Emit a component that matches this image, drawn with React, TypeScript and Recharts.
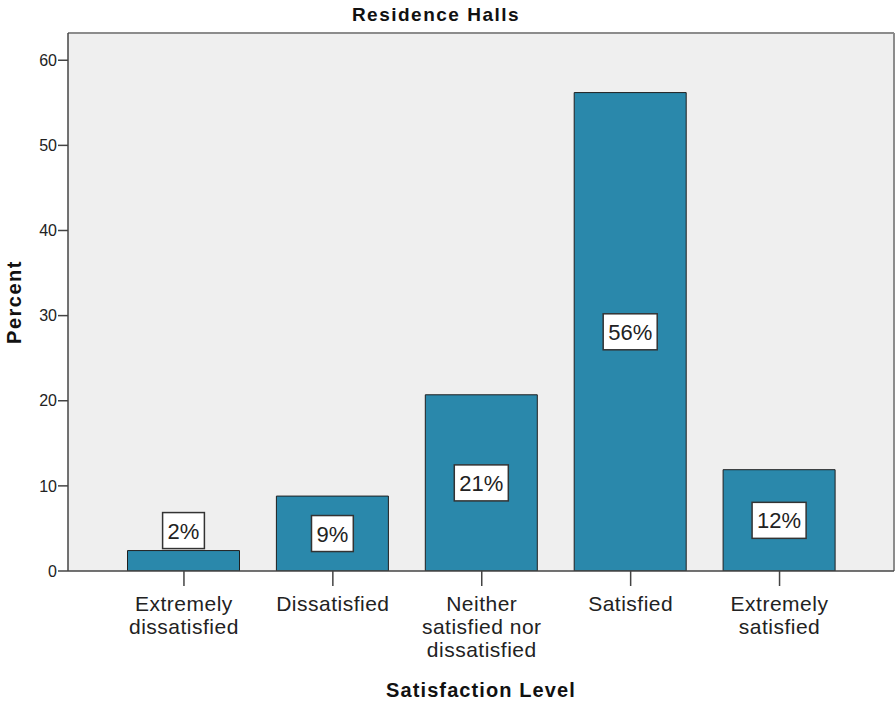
import { Bar, BarChart, CartesianGrid, LabelList, XAxis, YAxis } from "recharts";

const categories = [
  "Extremely\ndissatisfied",
  "Dissatisfied",
  "Neither\nsatisfied nor\ndissatisfied",
  "Satisfied",
  "Extremely\nsatisfied",
];
const percents = [2.4, 8.8, 20.7, 56.2, 11.9];
const percentLabels = ["2%", "9%", "21%", "56%", "12%"];
const yTicks = [0, 10, 20, 30, 40, 50, 60];
const yMax = 63.2;

const FONT = '"Liberation Sans", Arial, sans-serif';
const INK = "#222222";
const AXIS = "#444444";

const chartData = categories.map((name, i) => ({
  name,
  value: percents[i],
  label: percentLabels[i],
}));

// rough Arial advance widths for the label box
function textWidth(text: string, fontSize: number) {
  let w = 0;
  for (const ch of text) w += ch === "%" ? 0.889 : 0.556;
  return w * fontSize;
}

function CategoryTick({ x, y, payload }: any) {
  const lines = String(payload.value).split("\n");
  return (
    <text x={x} y={y} textAnchor="middle" fill={INK} fontSize={21} letterSpacing={0.5} fontFamily={FONT}>
      {lines.map((line, i) => (
        <tspan key={i} x={x} dy={i === 0 ? 25 : 23}>
          {line}
        </tspan>
      ))}
    </text>
  );
}

function ValueBox(props: any) {
  const { x, y, width, height, value } = props;
  const text = String(value);
  const fontSize = 22;
  const boxW = textWidth(text, fontSize) + 10;
  const boxH = 36;
  const cx = x + width / 2;
  // small bars get the box on top, others in the middle
  const cy = height >= boxH + 6 ? y + height / 2 : y - 2 - boxH / 2;
  return (
    <g>
      <rect x={cx - boxW / 2} y={cy - boxH / 2} width={boxW} height={boxH} fill="#ffffff" stroke="#333333" strokeWidth={1.5} />
      <text x={cx} y={cy + 8} textAnchor="middle" fill={INK} fontSize={fontSize} fontFamily={FONT}>
        {text}
      </text>
    </g>
  );
}

export default function App() {
  return (
    <div style={{ position: "absolute", left: 0, top: 0, width: 896, height: 702, background: "#ffffff" }}>
      <div
        style={{
          position: "absolute",
          top: 5,
          left: 0,
          width: 872,
          textAlign: "center",
          fontFamily: FONT,
          fontWeight: "bold",
          fontSize: 19,
          lineHeight: "19px",
          letterSpacing: 1.5,
          color: "#111111",
        }}
      >
        Residence Halls
      </div>
      <BarChart width={896} height={702} data={chartData} margin={{ top: 33, right: 2, left: 0, bottom: 0 }}>
        {/* plot frame: grey line on top and on the right */}
        <CartesianGrid
          fill="#efefef"
          stroke="#8c8c8c"
          strokeWidth={2}
          horizontalCoordinatesGenerator={({ offset }: any) => [offset.top]}
          verticalCoordinatesGenerator={({ offset }: any) => [offset.left + offset.width]}
        />
        <XAxis
          dataKey="name"
          interval={0}
          tick={<CategoryTick />}
          tickSize={15}
          tickMargin={0}
          tickLine={{ stroke: AXIS, strokeWidth: 1.5 }}
          axisLine={{ stroke: AXIS, strokeWidth: 1.5 }}
          padding={{ left: 41.5, right: 40 }}
          height={131}
          label={{
            content: ({ viewBox }: any) => (
              <text
                x={viewBox.x + viewBox.width / 2}
                y={viewBox.y + viewBox.height - 5}
                textAnchor="middle"
                fill="#111111"
                fontSize={20}
                fontWeight="bold"
                letterSpacing={1.1}
                fontFamily={FONT}
              >
                Satisfaction Level
              </text>
            ),
          }}
        />
        <YAxis
          domain={[0, yMax]}
          ticks={yTicks}
          allowDataOverflow
          width={68}
          tickSize={10}
          tickMargin={1}
          tick={{ fontSize: 16, fill: INK, fontFamily: FONT }}
          tickLine={{ stroke: AXIS, strokeWidth: 1.5 }}
          axisLine={{ stroke: AXIS, strokeWidth: 1.5 }}
          label={{
            content: ({ viewBox }: any) => {
              const cx = viewBox.x + 21;
              const cy = viewBox.y + viewBox.height / 2;
              return (
                <text
                  transform={`translate(${cx},${cy}) rotate(-90)`}
                  textAnchor="middle"
                  fill="#111111"
                  fontSize={20}
                  fontWeight="bold"
                  letterSpacing={1.5}
                  fontFamily={FONT}
                >
                  Percent
                </text>
              );
            },
          }}
        />
        <Bar dataKey="value" fill="#2a88ab" stroke="#1f1f1f" strokeWidth={1} barSize={112} isAnimationActive={false}>
          <LabelList dataKey="label" content={<ValueBox />} />
        </Bar>
      </BarChart>
    </div>
  );
}
